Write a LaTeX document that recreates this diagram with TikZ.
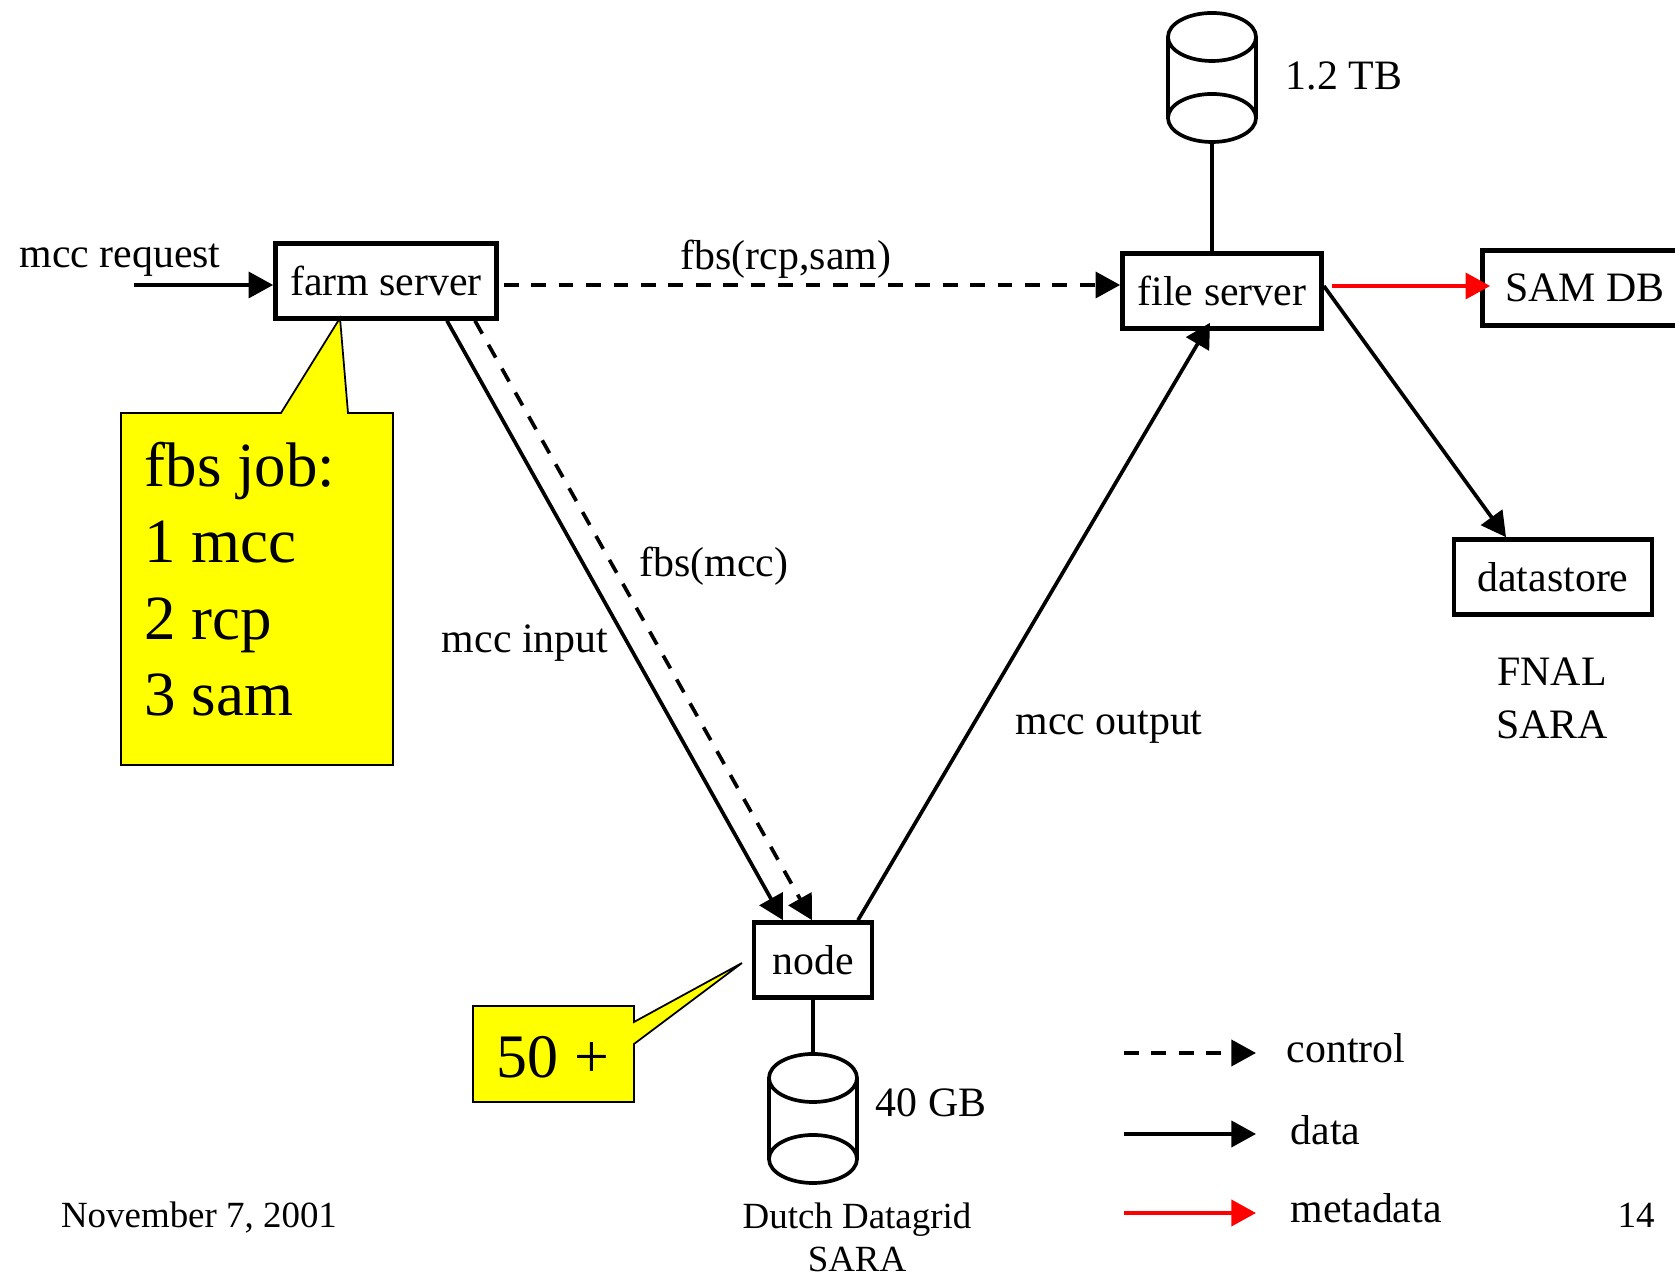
\documentclass[tikz,border=0pt]{standalone}
\usepackage{fontspec}
\setmainfont{Liberation Serif}
\usetikzlibrary{positioning, arrows.meta, calc}
\definecolor{notefill}{RGB}{255,255,0}
\definecolor{metared}{RGB}{255,0,0}

\begin{document}
\begin{tikzpicture}[
    x=0.01cm, y=-0.01cm,
    >={Triangle[length=7pt,width=7.4pt]},
    font=\fontsize{11.9}{14.3}\selectfont,
    box/.style={draw, rectangle, line width=1.3pt, minimum height=0.75cm, inner sep=2pt},
    dat/.style={->, line width=1.05pt},
    ctrl/.style={->, line width=1.05pt, dash pattern=on 4.2pt off 3.6pt},
    meta/.style={->, line width=1.05pt, metared},
    wire/.style={line width=1.05pt},
    note/.style={draw, line width=0.5pt, fill=notefill},
    big/.style={font=\fontsize{17.9}{21.8}\selectfont},
    small/.style={font=\fontsize{10.5}{12.5}\selectfont},
    disk/.pic={
        \draw[wire] (-44,24) -- (-44,105) (44,24) -- (44,105);
        \draw[wire] (0,24) ellipse [x radius=0.44cm, y radius=0.24cm];
        \draw[wire] (0,105) ellipse [x radius=0.44cm, y radius=0.24cm];
        \coordinate (-top) at (0,0);
        \coordinate (-bot) at (0,129);
    },
]
\useasboundingbox[fill=white] (0,0) rectangle (1675,1277);

% Servers
\node[box, minimum width=2.21cm] (farm) at (386,281) {farm server};
\node[box, minimum width=1.99cm] (fileserv) at (1222,291) {file server};
\node[box, minimum width=2.05cm] (samdb) at (1585,288) {SAM DB};
\node[box, minimum width=1.98cm] (store) at (1553,577) {datastore};
\node[box, minimum width=1.18cm] (worker) at (813,960) {node};

% Disks
\pic (bigdisk) at (1212,13) {disk};
\pic (smalldisk) at (813,1054) {disk};
\node[anchor=base] (tblbl) at (1344,90) {1.2 TB};
\node[anchor=base] (gblbl) at (931,1117) {40 GB};

% Request
\coordinate (req) at (134,285);
\node[anchor=base] (reqlbl) at (120,268) {mcc request};

% Site
\node[anchor=base, align=center, font=\fontsize{11.9}{15.1}\selectfont] (site) at (1552,739) {FNAL\\SARA};

% Callouts
\draw[note] (121,413) -- (281,413) -- (340,318) -- (348,413) -- (393,413) -- (393,765) -- (121,765) -- cycle;
\node[big, anchor=base west, align=left, inner sep=0] (jobtxt) at (144,716) {fbs job:\\1 mcc\\2 rcp\\3 sam};
\draw[note] (473,1006) -- (634,1006) -- (634,1022) -- (742,963) -- (634,1044) -- (634,1102) -- (473,1102) -- cycle;
\node[font=\fontsize{17.6}{21}\selectfont, anchor=base] (count) at (553,1078) {50 +};

% Arrows
\draw[dat] (req) -- (req -| farm.west);
\draw[ctrl] ($(farm.east)+(5,4)$) -- ($(fileserv.west)+(0,-6)$);
\draw[meta] ($(fileserv.east)+(8,-5)$) -- ($(samdb.west)+(10,-2)$);
\draw[dat] ($(fileserv.east)+(0,-5)$) -- ($(store.north)+(-47,0)$);
\draw[dat] ($(farm.south)+(61,0)$) -- ($(worker.north)+(-30,0)$);
\draw[ctrl] ($(farm.south)+(89,0)$) -- ($(worker.north)+(-1,0)$);
\draw[dat] ($(worker.north)+(45,0)$) -- ($(fileserv.south)+(-12,-8)$);
\draw[wire] (bigdisk-bot) -- (bigdisk-bot |- fileserv.north);
\draw[wire] (worker.south) -- (smalldisk-top);

% Arrow labels
\node[anchor=base] (rcpsam) at (786,270) {fbs(rcp,sam)};
\node[anchor=base] (fbsmcc) at (714,577) {fbs(mcc)};
\node[anchor=base] (inlbl) at (525,653) {mcc input};
\node[anchor=base] (outlbl) at (1109,735) {mcc output};

% Legend
\coordinate (ctlA) at (1124,1053);
\coordinate (ctlB) at (1256,1053);
\coordinate (datA) at (1124,1134);
\coordinate (datB) at (1256,1134);
\coordinate (metA) at (1124,1213);
\coordinate (metB) at (1256,1213);
\draw[ctrl] (ctlA) -- (ctlB);
\draw[dat] (datA) -- (datB);
\draw[meta] (metA) -- (metB);
\node[anchor=base west, inner sep=0] (ctllbl) at (1286,1063) {control};
\node[anchor=base west, inner sep=0] (datlbl) at (1290,1145) {data};
\node[anchor=base west, inner sep=0] (metlbl) at (1290,1223) {metadata};

% Footer
\node[small, anchor=base] (date) at (199,1228) {November 7, 2001};
\node[small, anchor=base, align=center] (grid) at (857,1272) {Dutch Datagrid\\SARA};
\node[small, anchor=base] (page) at (1636,1228) {14};

\end{tikzpicture}
\end{document}
